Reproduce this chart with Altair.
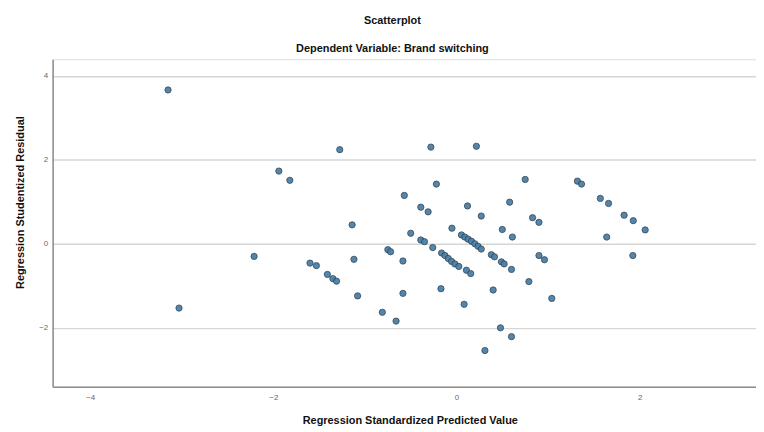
import altair as alt
import pandas as pd

pred = [-3.15, -3.03, -2.21, -1.94, -1.82, -1.60, -1.53, -1.41, -1.35, -1.31,
        -1.275, -1.14, -1.12, -1.08, -0.81, -0.75, -0.72, -0.66, -0.585, -0.585,
        -0.57, -0.50, -0.39, -0.31, -0.39, -0.35, -0.28, -0.26, -0.22, -0.17,
        -0.163, -0.126, -0.09, -0.054, -0.018, 0.025, -0.05, 0.054, 0.09, 0.127,
        0.163, 0.20, 0.235, 0.27, 0.083, 0.108, 0.155, 0.12, 0.217, 0.27,
        0.31, 0.38, 0.415, 0.40, 0.48, 0.49, 0.52, 0.50, 0.58, 0.60,
        0.60, 0.61, 0.75, 0.79, 0.83, 0.90, 0.90, 0.96, 1.04, 1.32,
        1.365, 1.57, 1.66, 1.64, 1.83, 1.93, 1.925, 2.06]
resid = [3.66, -1.53, -0.30, 1.73, 1.51, -0.46, -0.52, -0.73, -0.83, -0.89,
         2.24, 0.45, -0.37, -1.24, -1.63, -0.14, -0.19, -1.84, -0.41, -1.18,
         1.15, 0.25, 0.87, 0.76, 0.09, 0.05, 2.30, -0.09, 1.42, -1.07,
         -0.22, -0.28, -0.35, -0.42, -0.48, -0.54, 0.37, 0.21, 0.16, 0.11,
         0.06, 0.00, -0.06, -0.125, -1.44, -0.63, -0.71, 0.90, 2.32, 0.66,
         -2.54, -0.26, -0.31, -1.10, -2.00, -0.43, -0.48, 0.34, 0.99, -0.61,
         -2.21, 0.16, 1.53, -0.90, 0.62, 0.51, -0.28, -0.38, -1.30, 1.49,
         1.42, 1.08, 0.96, 0.16, 0.68, 0.55, -0.28, 0.33]

x_ticks = [-4, -2, 0, 2]
y_ticks = [-2, 0, 2, 4]

df = pd.DataFrame({"pred": pred, "resid": resid})

font = "Liberation Sans"

chart = alt.Chart(df).mark_circle(
    size=40, color="#4a80a8", stroke="#2f3f4f", strokeWidth=0.8, opacity=0.95
).encode(
    x=alt.X("pred:Q", scale=alt.Scale(domain=[-4.41, 3.27], nice=False, zero=False),
            axis=alt.Axis(values=x_ticks, title="Regression Standardized Predicted Value",
                          grid=False, ticks=False, labelFontSize=8, labelColor="#666666",
                          labelPadding=7, domainColor="#8c8c8c", domainWidth=1.5,
                          titleFont=font, titleFontSize=11, titleFontWeight="bold",
                          titleColor="#111111", titleX=360, titleY=28)),
    y=alt.Y("resid:Q", scale=alt.Scale(domain=[-3.4, 4.39], nice=False, zero=False),
            axis=alt.Axis(values=y_ticks, title="Regression Studentized Residual",
                          grid=True, gridColor="#d6d6d6", gridWidth=1.5, ticks=False,
                          labelFontSize=8, labelColor="#666666", labelPadding=5,
                          domainColor="#8c8c8c", domainWidth=1.5,
                          titleFont=font, titleFontSize=11, titleFontWeight="bold",
                          titleColor="#111111", titleX=-27, titleY=144)),
).properties(
    width=709,
    height=330,
    title=alt.TitleParams(
        "Scatterplot",
        subtitle="Dependent Variable: Brand switching",
        font=font, fontSize=11, fontWeight="bold", color="#111111",
        subtitleFont=font, subtitleFontSize=11, subtitleFontWeight="bold",
        subtitleColor="#111111", subtitlePadding=18, offset=5, dx=-12,
        anchor="middle",
    ),
    padding={"left": 45, "top": 50, "right": 0, "bottom": 42},
    autosize=alt.AutoSizeParams(type="none"),
).configure_view(stroke=None).configure(background="white")

chart.save("out.html", embed_options={"renderer": "svg", "actions": False})
